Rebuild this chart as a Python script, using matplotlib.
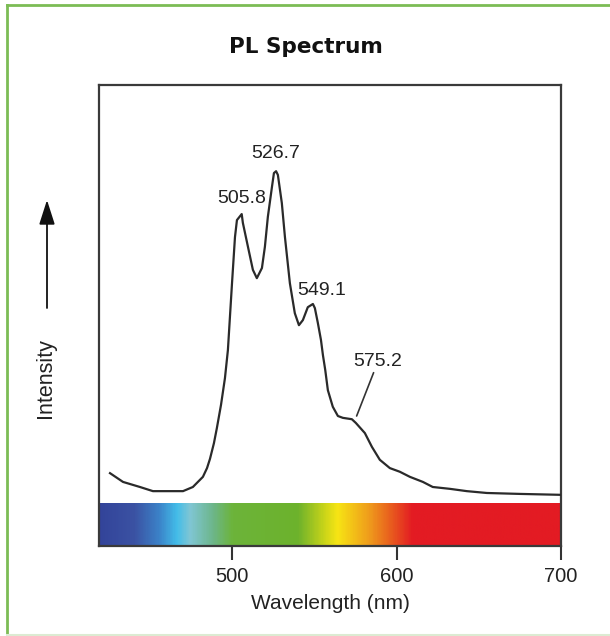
import numpy as np
import matplotlib
matplotlib.use("Agg")
import matplotlib.pyplot as plt
from matplotlib.colors import LinearSegmentedColormap
from matplotlib.lines import Line2D
from matplotlib.patches import FancyArrowPatch

plt.rcParams['font.family'] = ['Liberation Sans', 'DejaVu Sans']

# PL emission spectrum (arbitrary intensity units)
wavelength = [425.7, 433.6, 443.9, 451.8, 462.2, 470.1, 476.1, 482.2, 484.7, 486.5,
              488.9, 490.7, 493.2, 495.6, 497.4, 499.9, 501.7, 502.9, 505.8, 506.5,
              509.6, 512.6, 515.0, 518.1, 519.9, 521.7, 524.2, 525.4, 526.7, 527.8,
              530.2, 532.1, 535.1, 538.1, 540.6, 543.0, 546.0, 549.1, 550.3, 552.1,
              554.0, 555.2, 556.6, 558.2, 561.2, 564.3, 567.3, 572.8, 575.2, 580.7,
              585.0, 589.8, 595.9, 602.0, 608.1, 616.0, 622.0, 632.4, 642.7, 654.9,
              674.9, 700.0]
intensity = [15.8, 13.9, 12.8, 11.9, 11.9, 11.9, 12.8, 15.0, 16.9, 18.9,
             22.3, 25.6, 30.6, 36.4, 42.5, 57.0, 67.0, 70.7, 72.0, 70.1,
             64.9, 59.9, 58.1, 60.3, 64.9, 71.4, 77.9, 80.9, 81.3, 80.5,
             74.4, 67.0, 57.0, 50.5, 47.9, 49.0, 51.8, 52.5, 51.6, 48.4,
             44.7, 41.4, 38.2, 33.8, 30.2, 28.2, 27.8, 27.5, 26.7, 24.5,
             21.5, 18.7, 16.9, 16.1, 15.0, 13.9, 12.8, 12.4, 11.9, 11.5,
             11.3, 11.1]

# Labelled peaks
peak_labels = ["505.8", "526.7", "549.1", "575.2"]
peak_wl = [505.8, 526.7, 549.1, 575.2]
peak_val = [72.0, 81.3, 52.5, 26.7]

x_ticks = [500, 600, 700]

# Visible-spectrum colour strip (wavelength stop, colour)
strip_wl = [419, 440, 455, 466, 474, 488, 500, 540, 555, 564, 584, 596, 610, 700]
strip_colors = ["#33449a", "#3b52a3", "#3b82c8", "#43bde9", "#80c6d4", "#6db68a",
                "#6cb43a", "#6db22c", "#c3d21a", "#f7e514", "#ef9a1c", "#e9601e",
                "#e31b23", "#e31b23"]

XMIN, XMAX = 419, 700
YMIN, YMAX = 0, 100
STRIP_TOP = 9.3

fig = plt.figure(figsize=(6.10, 6.36), dpi=100)
ax = fig.add_axes([99 / 610, 1 - 546 / 636, 462 / 610, 461 / 636])

# colour strip along the bottom of the plot
span = XMAX - XMIN
stops = [(w - XMIN) / span for w in strip_wl]
cmap = LinearSegmentedColormap.from_list("visible", list(zip(stops, strip_colors)))
grad = np.linspace(0, 1, 600).reshape(1, -1)
ax.imshow(grad, cmap=cmap, aspect="auto", extent=[XMIN, XMAX, YMIN, STRIP_TOP],
          interpolation="bilinear", zorder=1)

ax.plot(wavelength, intensity, color="#2a2a2a", lw=1.6, zorder=3,
        solid_joinstyle="round")

# peak labels
offsets = {"505.8": (0, 1.6), "526.7": (-0.5, 2.0), "549.1": (5.5, 1.1)}
for lab, w, v in zip(peak_labels, peak_wl, peak_val):
    if lab in offsets:
        dx, dy = offsets[lab]
        ax.text(w + dx, v + dy, lab, ha="center", va="bottom", fontsize=14, color="#222222")
    else:
        ax.annotate(lab, xy=(w + 0.5, v + 1.5), xytext=(w + 13.5, v + 11.5),
                    ha="center", va="bottom", fontsize=14, color="#222222",
                    arrowprops=dict(arrowstyle="-", color="#333333", lw=1.2,
                                    shrinkA=0, shrinkB=0))

ax.set_xlim(XMIN, XMAX)
ax.set_ylim(YMIN, YMAX)
ax.set_xticks(x_ticks)
ax.set_xticklabels([str(t) for t in x_ticks])
ax.set_yticks([])
ax.tick_params(axis="x", direction="out", length=10, width=1.5, color="#333333",
               labelsize=14.5, pad=5, labelcolor="#222222")
for s in ax.spines.values():
    s.set_color("#3a3a3a")
    s.set_linewidth(1.6)
ax.set_xlabel("Wavelength (nm)", fontsize=15, color="#222222", labelpad=6)

# y-axis label with an upward arrow
fig.text(45 / 610, 1 - 378 / 636, "Intensity", rotation=90, ha="center", va="center",
         fontsize=15.5, color="#222222")
fig.add_artist(FancyArrowPatch(
    (47 / 610, 1 - 308 / 636), (47 / 610, 1 - 200 / 636), transform=fig.transFigure,
    arrowstyle="-|>,head_length=1.0,head_width=0.32", mutation_scale=15,
    color="#111111", lw=1.3, shrinkA=0, shrinkB=0))

fig.text(306 / 610, 1 - 47 / 636, "PL Spectrum", ha="center", va="center",
         fontsize=15.5, fontweight="bold", family=["DejaVu Sans"], color="#111111")

# green frame around the figure
green = "#7cbc55"
fig.add_artist(Line2D([7 / 610, 7 / 610], [0.002, 1 - 5 / 636], transform=fig.transFigure,
                      color=green, lw=2.0))
fig.add_artist(Line2D([7 / 610, 1.0], [1 - 5 / 636, 1 - 5 / 636], transform=fig.transFigure,
                      color=green, lw=2.0))
fig.add_artist(Line2D([7 / 610, 1.0], [1 - 635 / 636, 1 - 635 / 636], transform=fig.transFigure,
                      color="#dcebd2", lw=1.5))

fig.savefig("out.png", dpi=100, facecolor="white")
